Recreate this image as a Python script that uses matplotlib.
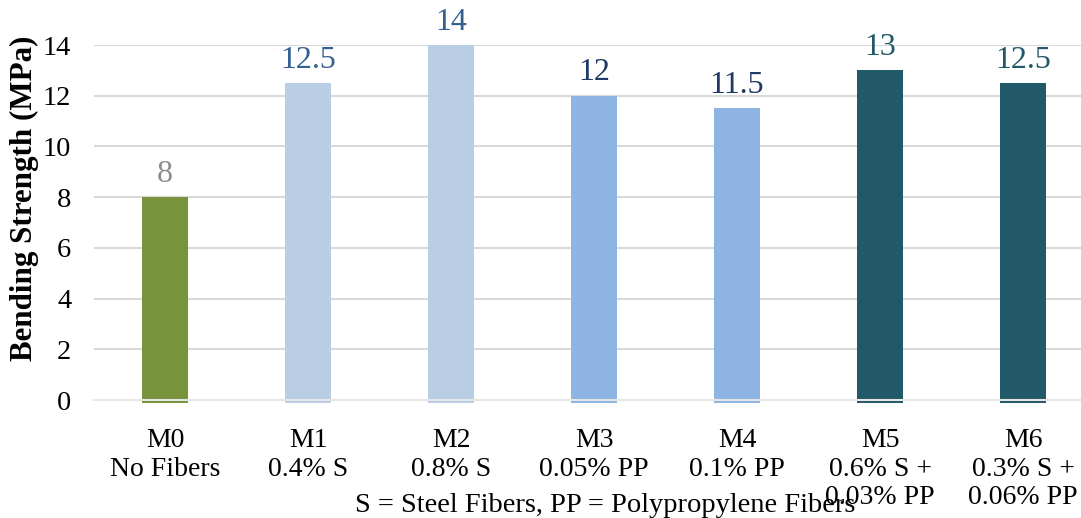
import matplotlib
matplotlib.use("Agg")
import matplotlib.pyplot as plt

categories = ["M0\nNo Fibers", "M1\n0.4% S", "M2\n0.8% S", "M3\n0.05% PP", "M4\n0.1% PP",
              "M5\n0.6% S +\n0.03% PP", "M6\n0.3% S +\n0.06% PP"]
values = [8, 12.5, 14, 12, 11.5, 13, 12.5]
value_labels = ["8", "12.5", "14", "12", "11.5", "13", "12.5"]
bar_colors = ["#77933C", "#B9CDE5", "#B9CDE5", "#8EB4E3", "#8EB4E3", "#215968", "#215968"]
label_colors = ["#8C8C8C", "#376092", "#376092", "#1F3864", "#1F3864", "#215968", "#215968"]
yticks = [0, 2, 4, 6, 8, 10, 12, 14]

plt.rcParams['font.family'] = ['Liberation Serif', 'DejaVu Serif']

W, H = 1081, 518
fig = plt.figure(figsize=(W / 100, H / 100), dpi=100)
left, right = 93.5, 93.5 + 1001
top, bottom = 45, 400
ax = fig.add_axes([left / W, (H - bottom) / H, (right - left) / W, (bottom - top) / H])

x = list(range(len(values)))
base = -0.12
ax.bar(x, [v - base for v in values], bottom=base, width=0.32, color=bar_colors,
       zorder=3, clip_on=False)
ax.axhline(0, color="#E6E6E6", linewidth=1.5, zorder=4, clip_on=False)
for xi, v, lab, c in zip(x, values, value_labels, label_colors):
    ax.annotate(lab, (xi, v), xytext=(0, 11), textcoords="offset points",
                ha="center", va="baseline", fontsize=23, color=c, clip_on=False)

ax.set_xlim(-0.5, 6.5)
ax.set_ylim(0, 14)
ax.set_yticks(yticks)
ax.yaxis.grid(True, color="#D9D9D9", linewidth=1.5, zorder=0)
ax.set_axisbelow(True)
for s in ax.spines.values():
    s.set_visible(False)
ax.tick_params(axis="y", length=0, pad=16, labelsize=20.5)
ax.tick_params(axis="x", length=0, pad=20, labelsize=20)
ax.set_xticks(x)
ax.set_xticklabels(categories, linespacing=1.2)
ax.set_ylabel("Bending Strength (MPa)", fontsize=22.3, fontweight="bold")
ax.yaxis.set_label_coords(-(93.5 - 39) / 1001, (400 - 198) / 355)

fig.text(605 / W, 1 - 505 / H, "S = Steel Fibers, PP = Polypropylene Fibers",
         ha="center", va="center", fontsize=20.5)

fig.savefig("out.png", dpi=100)
